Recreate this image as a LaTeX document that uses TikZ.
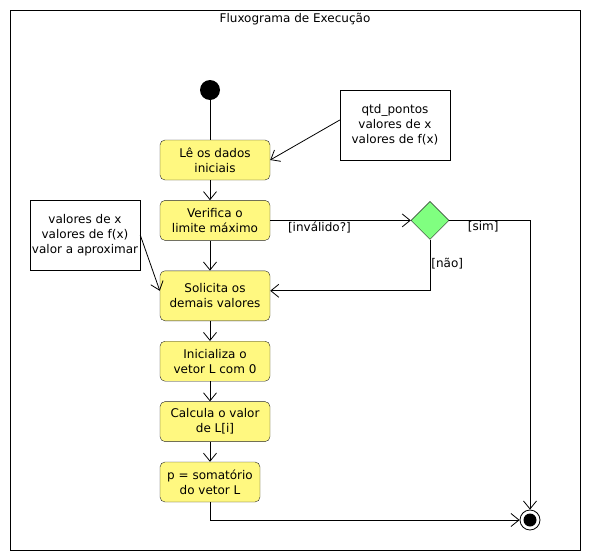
\documentclass[tikz,border=0pt]{standalone}
\usepackage{fontspec}
\setmainfont{DejaVu Sans}
\usepackage{tikz}
\usetikzlibrary{arrows.meta,positioning,shapes.geometric}

\begin{document}
\begin{tikzpicture}[x=1pt,y=-1pt,
  font=\fontsize{12}{15}\selectfont,
  act/.style={draw=black!85,fill=yellow!50,rounded corners=5pt,align=center,
              minimum width=110pt,minimum height=40pt,inner sep=2pt},
  nt/.style={draw,align=center,minimum width=110pt,minimum height=70pt,inner sep=2pt},
  dec/.style={diamond,draw=black!85,fill=green!50,minimum width=38pt,
              minimum height=38pt,inner sep=0pt},
  ar/.style={-{Straight Barb[length=8pt,width=13pt]},line width=0.8pt},
  ln/.style={line width=0.8pt},
  lb/.style={inner sep=1pt},
]
\useasboundingbox (0,0) rectangle (590,560);
% ============ frame ============
\node[draw,line width=0.8pt,minimum width=570pt,minimum height=540pt] (frm) at (295,280) {};
\node[anchor=north,inner sep=3pt] (ttl) at (frm.north) {Fluxograma de Execução};
% ============ main chain ============
\node[circle,fill=black,minimum size=20pt,inner sep=0pt] (ini) at (210,90) {};
\node[act] (le) at (215,160) {Lê os dados\\iniciais};
\node[act,below=20pt of le] (verif) {Verifica o\\limite máximo};
\node[act,minimum height=50pt,below=30pt of verif] (solic) {Solicita os\\demais valores};
\node[act,below=20pt of solic] (inic) {Inicializa o\\vetor L com 0};
\node[act,below=20pt of inic] (calc) {Calcula o valor\\de L[i]};
\node[act,minimum width=100pt,below=20pt of calc.south west,anchor=north west] (soma)
  {p = somatório\\do vetor L};
\node[dec] (dec) at (verif.east-|430,0) {};
\node[circle,draw,fill=white,line width=0.8pt,minimum size=20pt,inner sep=0pt] (fim) at (530,520) {};
\node[circle,fill=black,minimum size=13pt,inner sep=0pt] at (fim) {};
% ============ notes ============
\node[nt] (nq) at (395,125) {qtd\_pontos\\valores de x\\valores de f(x)};
\node[nt] (nv) at (85,235) {valores de x\\valores de f(x)\\valor a aproximar};
% ============ flow ============
\draw[ln] (ini) -- (ini|-le.north);
\foreach \a/\b in {le/verif,verif/solic,solic/inic,inic/calc,calc/soma}
  \draw[ar] (\a.south-|ini) -- (\b.north-|ini);
\draw[ar] (verif.east) -- node[lb,below,pos=.35] {[inválido?]} (dec.west);
\draw[ar] (dec.south) |- node[lb,right,pos=.23] {[não]} ([yshift=5pt]solic.east);
\draw[ar] (dec.east) -| node[lb,below,pos=.21] {[sim]} (fim.north);
\draw[ar] (soma.south) |- (fim.west);
\draw[ar] ([yshift=5pt]nq.west) -- (le.east);
\draw[ar] (nv.east) -- ([yshift=5pt]solic.west);
\end{tikzpicture}
\end{document}
